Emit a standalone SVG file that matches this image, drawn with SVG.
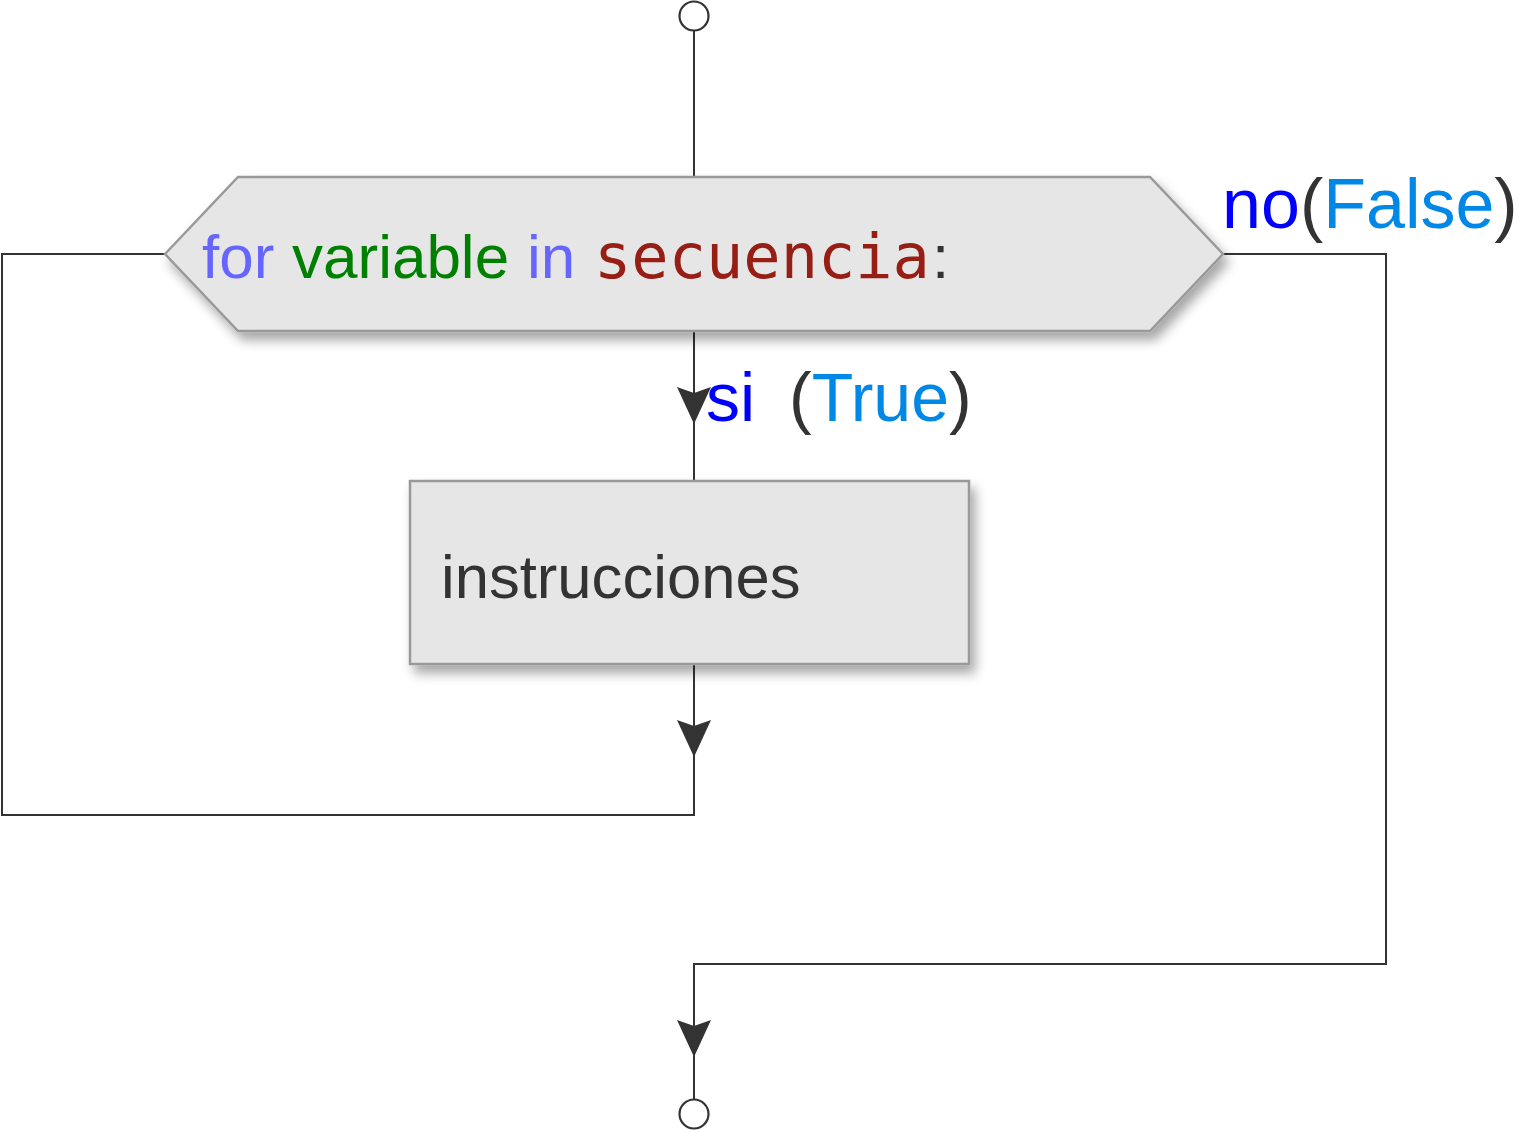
<svg xmlns="http://www.w3.org/2000/svg" xmlns:xlink="http://www.w3.org/1999/xlink" width="1518" height="1130" viewBox="0 0 1518 1130">
<style>
.line{fill:none;stroke:#333333;stroke-width:2}
.node{fill:#e6e6e6;stroke:#999999;stroke-width:2.5}
.term{fill:#ffffff;stroke:#333333;stroke-width:2.2}
.sans{font-family:"Liberation Sans",Arial,sans-serif}
.mono{font-family:"DejaVu Sans Mono","Liberation Mono",monospace}
.kw{fill:#6666ff}
.var{fill:#008000}
.seq{fill:#961e14}
.dark{fill:#333333}
.blue{fill:#0000ff}
.lblue{fill:#0088e6}
</style>
<defs>
<filter id="shadow" x="-10%" y="-10%" width="130%" height="150%">
<feDropShadow dx="5" dy="8" stdDeviation="6" flood-color="#000000" flood-opacity="0.35"/>
</filter>
<path id="arrow" d="M0,0 L-17,-37 L0,-31 L17,-37 Z" fill="#333333"/>
</defs>
<rect width="1518" height="1130" fill="#ffffff"/>
<g id="connectors">
<path class="line" d="M694,31 V177"/>
<path class="line" d="M694,331 V481"/>
<use xlink:href="#arrow" x="694" y="424"/>
<path class="line" d="M694,664 V815 H2 V254 H165"/>
<use xlink:href="#arrow" x="694" y="757"/>
<path class="line" d="M1223,254 H1386 V964 H694 V1099"/>
<use xlink:href="#arrow" x="694" y="1057"/>
</g>
<g id="start">
<circle class="term" cx="694" cy="16" r="14.5"/>
</g>
<g id="end">
<circle class="term" cx="694" cy="1114" r="14.5"/>
</g>
<g id="decision">
<polygon class="node" filter="url(#shadow)" points="165,254 238,177 1150,177 1223,254 1150,331 238,331"/>
<text y="278" font-size="62"><tspan class="sans kw" x="202">for</tspan><tspan class="sans var" x="292">variable</tspan><tspan class="sans kw" x="527">in</tspan><tspan class="mono seq" x="594">secuencia</tspan><tspan class="sans dark" x="932">:</tspan></text>
</g>
<g id="label-true">
<text class="sans" y="421" font-size="68"><tspan class="blue" x="706">si</tspan><tspan class="dark" x="789">(</tspan><tspan class="lblue">True</tspan><tspan class="dark">)</tspan></text>
</g>
<g id="label-false">
<text class="sans" y="228" font-size="70"><tspan class="blue" x="1222">no</tspan><tspan class="dark">(</tspan><tspan class="lblue">False</tspan><tspan class="dark">)</tspan></text>
</g>
<g id="instrucciones">
<rect class="node" filter="url(#shadow)" x="410" y="481" width="559" height="183"/>
<text class="sans dark" x="441" y="598" font-size="61.6">instrucciones</text>
</g>
</svg>
